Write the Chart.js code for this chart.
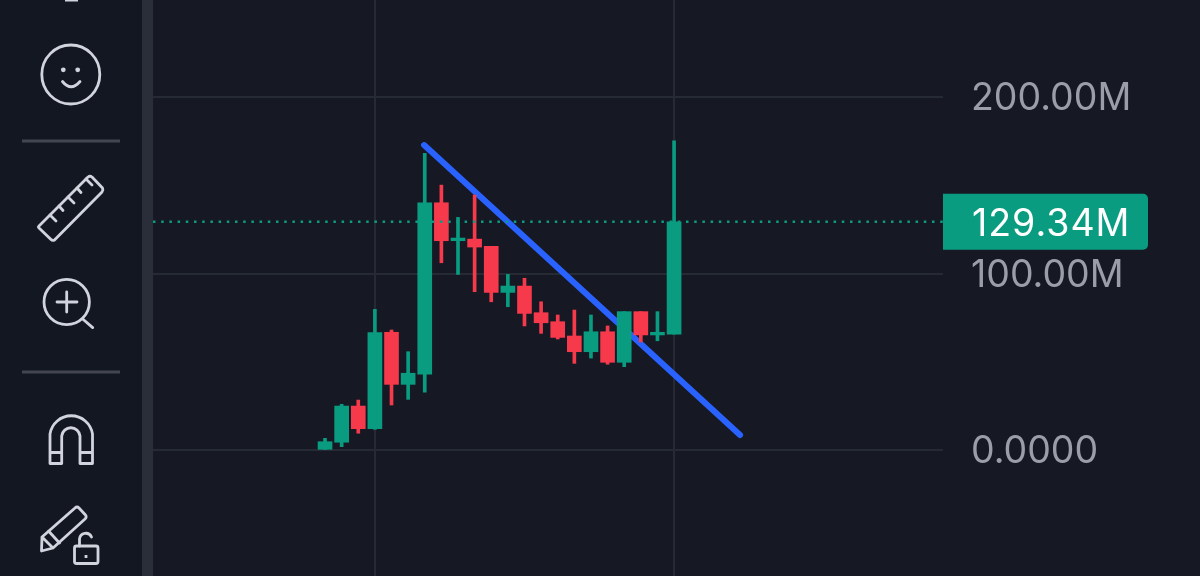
<!DOCTYPE html>
<html>
<head>
<meta charset="utf-8">
<title>Chart</title>
<script src="https://cdn.jsdelivr.net/npm/chart.js@4/dist/chart.umd.min.js"></script>
<style>
  html, body { margin: 0; padding: 0; background: #161924; overflow: hidden; }
  #wrap { position: relative; width: 1200px; height: 576px; }
  canvas { display: block; }
  #side { position: absolute; left: 0; top: 0; }
</style>
</head>
<body>
<div id="wrap">
  <canvas id="graph" width="1200" height="576"></canvas>
  <svg id="side" width="153" height="576" fill="none" stroke="#d1d4dc" stroke-width="2.8" stroke-linecap="round" stroke-linejoin="round">
    <rect x="0" y="0" width="142" height="576" fill="#131722" stroke="none"/>
    <rect x="142" y="0" width="11" height="576" fill="#2a2e39" stroke="none"/>
    <rect x="65" y="0" width="13" height="1.5" fill="#d1d4dc" stroke="none"/>
    <ellipse cx="70.8" cy="74.5" rx="29" ry="29.5"/>
    <circle cx="63.3" cy="69.8" r="2.4" fill="#d1d4dc" stroke="none"/>
    <circle cx="77.7" cy="69.8" r="2.4" fill="#d1d4dc" stroke="none"/>
    <path d="M62.5 81.5 Q71 92 80 81.5"/>
    <path d="M22 141 H120 M22 372 H120" stroke="#434651" stroke-linecap="butt"/>
    <path d="M39 226 L88 177 Q90 175.5 92 177 L102.5 188 Q103.5 190 102 192 L54.5 240 Q52.5 241 51 239.5 L39 228 Q38 227 39 226 Z"/>
    <path d="M50 215 L56 221 M59 206 L63 210.5 M68 197 L74 203 M77 188 L81 192.5 M86 179 L92 185"/>
    <circle cx="66.7" cy="302" r="22.7"/>
    <path d="M66.7 292 V312 M57 302 H77 M82.7 319 L92.7 327.6"/>
    <path d="M50 463.5 V434 A21.5 21.5 0 0 1 92.5 434 V463.5 H80 V436 A9.2 9.2 0 0 0 61.7 436 V463.5 Z M50 452.5 H61.7 M80 452.5 H92.5"/>
    <path d="M41.5 551 L42 537 L75 508 Q77 506 79 508 L85.5 515 Q87 517 85 519 L53 548 Z M42 537 L53 548 M48.5 531 L59.5 543"/>
    <rect x="74.5" y="546" width="23.5" height="17.5" rx="2"/>
    <path d="M79.5 546 V539 A6.3 6.3 0 0 1 91.5 537"/>
    <path d="M86 555 V558" stroke-linecap="butt"/>
  </svg>
</div>
<script>
// candle values in millions
var opens  = [0.4, 4.4, 24.9, 12.1, 66.7, 37.2, 43.0, 140.1, 118.6, 119.5, 115.4, 89.3, 92.9, 77.8, 72.7, 64.6, 55.7, 67.0, 49.7, 78.4, 65.2, 65.7];
var closes = [4.7, 24.9, 12.1, 66.5, 37.2, 43.5, 140.1, 118.6, 120.1, 115.0, 89.3, 92.9, 77.4, 72.1, 63.8, 55.7, 67.0, 49.7, 78.4, 65.2, 66.7, 129.34];
var highs  = [6.6, 25.9, 28.3, 79.7, 68.0, 55.7, 168.1, 150.1, 131.8, 144.5, 115.4, 99.5, 97.3, 84.0, 76.5, 79.3, 76.5, 70.3, 78.4, 78.4, 78.4, 175.2];
var lows   = [0.3, 1.9, 9.5, 11.7, 25.5, 28.7, 32.7, 106.1, 99.5, 89.7, 84.0, 81.2, 70.3, 66.1, 62.9, 49.1, 52.1, 48.6, 47.2, 61.2, 61.9, 65.7];

var yTicks = [0, 100, 200];
var yTickLabels = ['0.0000', '100.00M', '200.00M'];
var xGridBars = [3, 21];

// hand drawn trend line, bar index / price
var trendX = [5.96, 24.97];
var trendY = [172.8, 8.5];

var lastPrice = 129.34;
var lastPriceLabel = '129.34M';

var green = '#0a9c81';
var red = '#f6394b';

document.addEventListener('DOMContentLoaded', () => {
  var graph = document.getElementById('graph').getContext('2d');

  function candleColors() {
    return closes.map((c, i) => c >= opens[i] ? green : red);
  }

  // green box with the last price on the right axis
  var priceTag = {
    id: 'priceTag',
    afterDraw(chart) {
      var ctx = chart.ctx;
      var y = chart.scales.y.getPixelForValue(lastPrice);
      ctx.save();
      ctx.fillStyle = '#0a9c81';
      ctx.beginPath();
      ctx.roundRect(943, y - 28, 205, 56, [0, 5, 5, 0]);
      ctx.fill();
      ctx.fillStyle = '#ffffff';
      ctx.font = '400 37.5px Inter, "Noto Sans", sans-serif';
      ctx.letterSpacing = '1px';
      ctx.textAlign = 'left';
      ctx.textBaseline = 'middle';
      ctx.fillText(lastPriceLabel, 972, y + 3);
      ctx.restore();
    }
  };

  // Inter sits a bit high, nudge the y labels down
  var nudgeLabels = {
    id: 'nudgeLabels',
    afterLayout(chart) {
      chart.scales.y.getLabelItems(chart.chartArea).forEach(item => {
        item.options.translation[1] += 2;
      });
    }
  };

  // chart area has to run to the canvas edges, labels may stick out
  function noPadding(scale) {
    scale.paddingTop = 0;
    scale.paddingBottom = 0;
    scale.paddingLeft = 0;
    scale.paddingRight = 0;
  }

  var myChart = new Chart(graph, {
    data: {
      datasets: [
        {
          type: 'line',
          order: 4,
          data: trendX.map((x, i) => ({ x: x, y: trendY[i] })),
          borderColor: '#2962ff',
          borderWidth: 6,
          borderCapStyle: 'round',
          pointRadius: 0
        },
        {
          type: 'bar',
          order: 3,
          grouped: false,
          barThickness: 3,
          data: highs.map((h, i) => ({ x: i, y: [lows[i], h] })),
          backgroundColor: candleColors()
        },
        {
          type: 'bar',
          order: 2,
          grouped: false,
          barThickness: 14,
          data: opens.map((o, i) => ({ x: i, y: [o, closes[i]] })),
          backgroundColor: candleColors()
        },
        {
          type: 'line',
          order: 1,
          data: [{ x: -10.35, y: lastPrice }, { x: 37.18, y: lastPrice }],
          borderColor: '#0a9c81',
          borderWidth: 2.5,
          borderDash: [2.5, 5.7],
          pointRadius: 0
        }
      ]
    },
    plugins: [nudgeLabels, priceTag],
    options: {
      responsive: false,
      animation: false,
      events: [],
      layout: { autoPadding: false, padding: { left: 153, right: 0, top: 0, bottom: 0 } },
      scales: {
        x: {
          type: 'linear',
          offset: false,
          min: -10.35,
          max: 37.18,
          afterBuildTicks(scale) {
            scale.ticks = xGridBars.map(v => ({ value: v }));
          },
          afterFit(scale) {
            scale.height = 0;
            noPadding(scale);
          },
          ticks: { display: false },
          border: { display: false },
          grid: { offset: false, color: '#262a34', lineWidth: 2, drawTicks: false }
        },
        y: {
          position: 'right',
          min: -71.4,
          max: 255,
          afterBuildTicks(scale) {
            scale.ticks = yTicks.map(v => ({ value: v }));
          },
          afterFit(scale) {
            scale.width = 257;
            noPadding(scale);
          },
          ticks: {
            color: '#9b9ea8',
            font: { family: 'Inter, "Noto Sans", sans-serif', size: 37.5, weight: '400' },
            crossAlign: 'near',
            padding: 28,
            callback: value => yTickLabels[yTicks.indexOf(value)]
          },
          border: { display: false },
          grid: { color: '#262a34', lineWidth: 2, drawTicks: false }
        }
      },
      plugins: {
        legend: { display: false },
        tooltip: { enabled: false }
      }
    }
  });
});
</script>
</body>
</html>
